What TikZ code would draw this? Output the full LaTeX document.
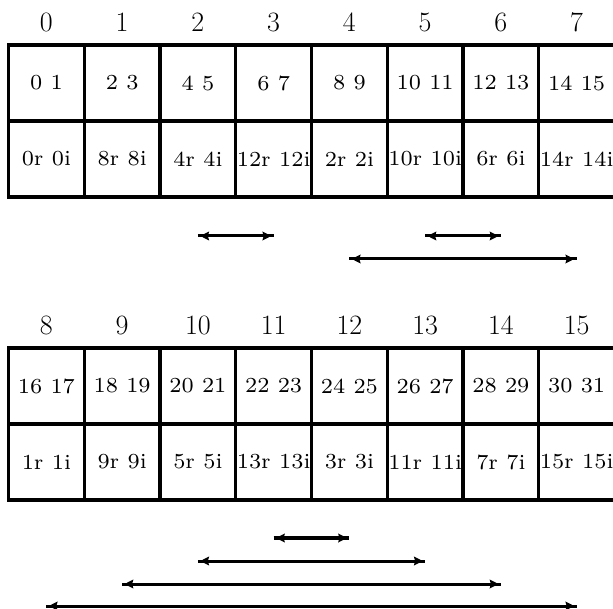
\documentclass[tikz,border=0pt]{standalone}
\usepackage{graphicx}
\usetikzlibrary{arrows.meta}
\newcommand{\celltxt}[1]{\scalebox{2.3}{\fontsize{7}{8.4}\selectfont #1}}
\begin{document}
\begin{tikzpicture}[x=0.75pt,y=-0.75pt,
  gridline/.style={line width=2.4pt,line cap=rect},
  lbl/.style={font=\fontsize{21}{25}\selectfont,inner sep=0pt},
  celltext/.style={inner sep=0pt},
  arrline/.style={line width=2.25pt},
  arrtips/.style={line width=2.25pt,shorten <=1.8pt,shorten >=1.8pt,
    {Stealth[length=6.5pt,width=6.5pt,inset=0.8pt]}-{Stealth[length=6.5pt,width=6.5pt,inset=0.8pt]}}]
\useasboundingbox (0,0) rectangle (613,609);
\fill[white] (0,0) rectangle (613,609);
% ---------- grids ----------
\foreach \y in {45,121,197,348,424,500}
  \draw[gridline] (8.5,\y) -- (611.5,\y);
\foreach \k in {0,...,7}{
  \draw[gridline] ({8.5+75.75*\k},45) -- ({8.5+75.75*\k},197);
  \draw[gridline] ({8.5+75.75*\k},348) -- ({8.5+75.75*\k},500);
}
% ---------- column labels ----------
\foreach \k in {0,...,7}{
  \pgfmathtruncatemacro{\kk}{\k+8}
  \node[lbl] (tl\k) at ({8.5+75.75*(\k+0.5)},22) {\k};
  \node[lbl] (bl\k) at ({8.5+75.75*(\k+0.5)},325) {\kk};
}
% ---------- cell texts ----------
\foreach \t [count=\k from 0] in {0 1,2 3,4 5,6 7,8 9,10 11,12 13,14 15}
  \node[celltext] (ta\k) at ({8.5+75.75*(\k+0.5)},83) {\celltxt{\t}};
\foreach \t [count=\k from 0] in {0r 0i,8r 8i,4r 4i,12r 12i,2r 2i,10r 10i,6r 6i,14r 14i}
  \node[celltext] (tb\k) at ({8.5+75.75*(\k+0.5)},159) {\celltxt{\t}};
\foreach \t [count=\k from 0] in {16 17,18 19,20 21,22 23,24 25,26 27,28 29,30 31}
  \node[celltext] (ba\k) at ({8.5+75.75*(\k+0.5)},386) {\celltxt{\t}};
\foreach \t [count=\k from 0] in {1r 1i,9r 9i,5r 5i,13r 13i,3r 3i,11r 11i,7r 7i,15r 15i}
  \node[celltext] (bb\k) at ({8.5+75.75*(\k+0.5)},462) {\celltxt{\t}};
% ---------- arrow end points ----------
\coordinate (p1a) at (tb2.center |- 0,236);
\coordinate (p1b) at (tb3.center |- 0,236);
\coordinate (p2a) at (tb5.center |- 0,236);
\coordinate (p2b) at (tb6.center |- 0,236);
\coordinate (p3a) at (tb4.center |- 0,259);
\coordinate (p3b) at (tb7.center |- 0,259);
\coordinate (q1a) at (bb3.center |- 0,538);
\coordinate (q1b) at (bb4.center |- 0,538);
\coordinate (q2a) at (bb2.center |- 0,561);
\coordinate (q2b) at (bb5.center |- 0,561);
\coordinate (q3a) at (bb1.center |- 0,584);
\coordinate (q3b) at (bb6.center |- 0,584);
\coordinate (q4a) at (bb0.center |- 0,606);
\coordinate (q4b) at (bb7.center |- 0,606);
% ---------- arrows ----------
\foreach \a/\b in {p1a/p1b,p2a/p2b,p3a/p3b,q2a/q2b,q3a/q3b,q4a/q4b}{
  \draw[arrline] (\a) -- (\b);
  \draw[arrtips] (\a) -- (\b);
}
\draw[arrline,line width=3pt] (q1a) -- (q1b);
\draw[arrtips,line width=3pt] (q1a) -- (q1b);
\end{tikzpicture}
\end{document}
